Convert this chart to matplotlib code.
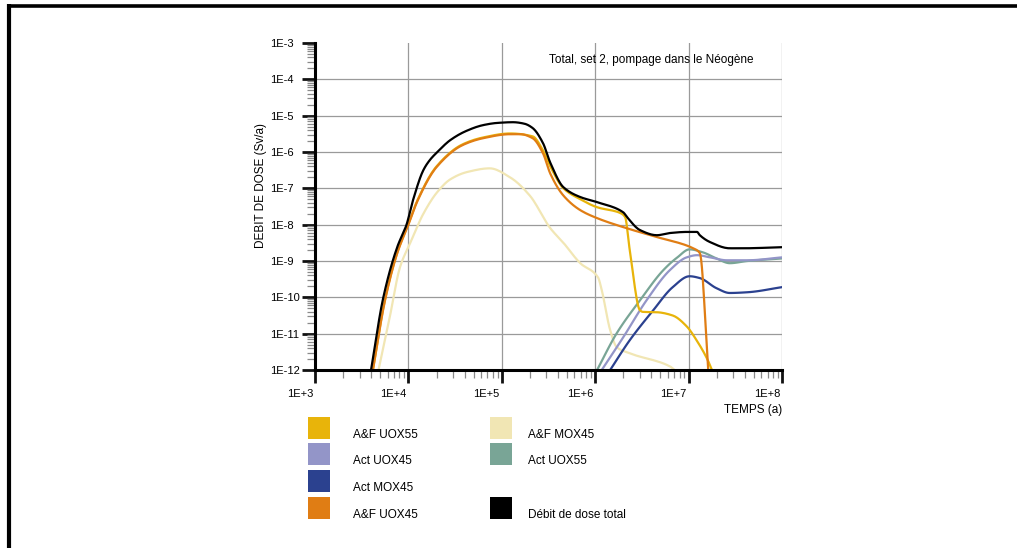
import numpy as np
import matplotlib
matplotlib.use("Agg")
import matplotlib.pyplot as plt
from matplotlib.lines import Line2D
from matplotlib.patches import Rectangle
from matplotlib.ticker import LogLocator, FixedLocator, NullFormatter
from matplotlib.transforms import ScaledTranslation

plt.rcParams['font.family'] = ['Liberation Sans', 'DejaVu Sans']

# ---- data: log10(time [a]) and log10(dose rate [Sv/a]) per contribution ----
total_logt = [3.60, 3.73, 3.88, 3.98, 4.05, 4.16, 4.23, 4.31, 4.45, 4.62, 4.80, 4.95,
              5.12, 5.24, 5.33, 5.44, 5.52, 5.66, 5.84, 6.02, 6.30, 6.34, 6.48, 6.66,
              6.80, 6.98, 7.09, 7.12, 7.23, 7.44, 7.58, 8.00]
total_logd = [-12.0, -10.02, -8.62, -8.0, -7.32, -6.5, -6.22, -6.0, -5.67, -5.42, -5.26, -5.2,
              -5.18, -5.22, -5.34, -5.75, -6.3, -6.97, -7.24, -7.38, -7.66, -7.79, -8.15, -8.29,
              -8.23, -8.2, -8.2, -8.29, -8.48, -8.65, -8.65, -8.62]

af_uox55_logt = [3.62, 3.75, 3.88, 4.00, 4.10, 4.30, 4.58, 4.80, 5.09, 5.33, 5.44, 5.52,
                 5.66, 5.84, 6.02, 6.27, 6.32, 6.37, 6.48, 6.51, 6.66, 6.83, 6.98, 7.09,
                 7.20, 7.25]
af_uox55_logd = [-12.0, -10.05, -8.77, -7.98, -7.31, -6.40, -5.79, -5.60, -5.49, -5.57, -5.95, -6.4,
                 -7.0, -7.3, -7.52, -7.68, -7.79, -8.7, -10.36, -10.4, -10.41, -10.5, -10.8, -11.2,
                 -11.7, -12.0]

af_uox45_logt = [3.62, 3.75, 3.88, 4.00, 4.10, 4.30, 4.58, 4.80, 5.09, 5.20, 5.33, 5.44,
                 5.52, 5.66, 5.84, 6.02, 6.34, 6.66, 7.05, 7.12, 7.21]
af_uox45_logd = [-12.0, -10.08, -8.79, -8.0, -7.33, -6.42, -5.81, -5.62, -5.51, -5.51, -5.62, -6.03,
                 -6.6, -7.2, -7.6, -7.82, -8.1, -8.34, -8.65, -8.78, -12.0]

af_mox45_logt = [3.68, 3.80, 3.91, 4.02, 4.16, 4.31, 4.45, 4.63, 4.87, 5.09, 5.30, 5.52,
                 5.66, 5.84, 6.03, 6.07, 6.16, 6.23, 6.37, 6.80, 6.85]
af_mox45_logd = [-12.0, -10.55, -9.17, -8.5, -7.7, -7.1, -6.75, -6.55, -6.45, -6.7, -7.2, -8.1,
                 -8.5, -9.06, -9.45, -9.8, -10.9, -11.37, -11.54, -11.9, -12.0]

act_uox55_logt = [6.02, 6.23, 6.48, 6.73, 6.88, 7.01, 7.15, 7.30, 7.44, 7.63, 8.00]
act_uox55_logd = [-12.0, -10.99, -10.08, -9.25, -8.9, -8.68, -8.76, -8.93, -9.06, -9.0, -8.93]

act_uox45_logt = [6.07, 6.30, 6.55, 6.80, 6.98, 7.09, 7.23, 7.41, 7.63, 8.00]
act_uox45_logd = [-12.0, -11.1, -10.08, -9.25, -8.9, -8.84, -8.9, -8.98, -8.98, -8.9]

act_mox45_logt = [6.16, 6.37, 6.62, 6.83, 7.01, 7.12, 7.30, 7.44, 7.63, 8.00]
act_mox45_logd = [-12.0, -11.18, -10.36, -9.72, -9.42, -9.47, -9.75, -9.88, -9.86, -9.72]

x_tick_labels = ["1E+3", "1E+4", "1E+5", "1E+6", "1E+7", "1E+8"]
y_tick_labels = ["1E-12", "1E-11", "1E-10", "1E-9", "1E-8", "1E-7",
                 "1E-6", "1E-5", "1E-4", "1E-3"]

legend_labels = [["A&F UOX55", "Act UOX45", "Act MOX45", "A&F UOX45"],
                 ["A&F MOX45", "Act UOX55", None, "Débit de dose total"]]

C_YELLOW = "#e8b40a"
C_ORANGE = "#e07d14"
C_PALE = "#f1e6b4"
C_TEAL = "#79a596"
C_LAV = "#9395c8"
C_NAVY = "#2b418f"
C_BLACK = "#000000"

legend_colors = [[C_YELLOW, C_LAV, C_NAVY, C_ORANGE],
                 [C_PALE, C_TEAL, None, C_BLACK]]


def pchip_curve(xk, yk, n=12):
    """Monotone cubic Hermite curve through the given knots (no overshoot)."""
    xk = np.asarray(xk, float)
    yk = np.asarray(yk, float)
    h = np.diff(xk)
    d = np.diff(yk) / h
    m = np.zeros_like(yk)
    for i in range(1, len(xk) - 1):
        if d[i - 1] * d[i] > 0:
            w1 = 2 * h[i] + h[i - 1]
            w2 = h[i] + 2 * h[i - 1]
            m[i] = (w1 + w2) / (w1 / d[i - 1] + w2 / d[i])
    m[0] = d[0]
    m[-1] = d[-1]
    xs, ys = [], []
    for i in range(len(h)):
        t = np.linspace(0, 1, n, endpoint=False)
        h00 = 2 * t**3 - 3 * t**2 + 1
        h10 = t**3 - 2 * t**2 + t
        h01 = -2 * t**3 + 3 * t**2
        h11 = t**3 - t**2
        xs.append(xk[i] + t * h[i])
        ys.append(h00 * yk[i] + h10 * h[i] * m[i] + h01 * yk[i + 1] + h11 * h[i] * m[i + 1])
    xs.append([xk[-1]])
    ys.append([yk[-1]])
    return np.concatenate(xs), np.concatenate(ys)


# ---- figure ----
W, H = 1017, 548
fig = plt.figure(figsize=(W / 100, H / 100), dpi=100)


def fx(px):
    return px / W


def fy(py):
    return 1 - py / H


ax = fig.add_axes([fx(315), fy(370), fx(782) - fx(315), fy(43) - fy(370)])
ax.set_xscale("log")
ax.set_yscale("log")
ax.set_xlim(1e3, 1e8)
ax.set_ylim(1e-12, 1e-3)

series = [
    (af_mox45_logt, af_mox45_logd, C_PALE),
    (act_uox55_logt, act_uox55_logd, C_TEAL),
    (act_uox45_logt, act_uox45_logd, C_LAV),
    (act_mox45_logt, act_mox45_logd, C_NAVY),
    (af_uox55_logt, af_uox55_logd, C_YELLOW),
    (af_uox45_logt, af_uox45_logd, C_ORANGE),
    (total_logt, total_logd, C_BLACK),
]
for lt, ld, col in series:
    cx, cy = pchip_curve(lt, ld)
    ax.plot(10 ** cx, 10 ** cy, color=col, lw=1.6, solid_joinstyle="round")

# grid at decades
for k in range(4, 9):
    ax.axvline(10.0 ** k, color="#9a9a9a", lw=0.9, zorder=0)
for k in range(-11, -3):
    ax.axhline(10.0 ** k, color="#9a9a9a", lw=0.9, zorder=0)

for s in ["top", "right"]:
    ax.spines[s].set_visible(False)
for s in ["left", "bottom"]:
    ax.spines[s].set_linewidth(2.2)
    ax.spines[s].set_zorder(5)

ax.xaxis.set_major_locator(FixedLocator([10.0 ** k for k in range(3, 9)]))
ax.yaxis.set_major_locator(FixedLocator([10.0 ** k for k in range(-12, -2)]))
ax.set_xticklabels(x_tick_labels)
ax.set_yticklabels(y_tick_labels)
ax.xaxis.set_minor_locator(LogLocator(base=10, subs=np.arange(2, 10), numticks=20))
ax.yaxis.set_minor_locator(LogLocator(base=10, subs=np.arange(2, 10), numticks=20))
ax.xaxis.set_minor_formatter(NullFormatter())
ax.yaxis.set_minor_formatter(NullFormatter())

ax.tick_params(which="major", direction="out", length=9.5, width=2.0, color="#111111",
               labelsize=8)
ax.tick_params(axis="x", which="major", pad=4)
ax.tick_params(axis="y", which="major", pad=23)
ax.tick_params(which="minor", direction="out", length=5.5, width=0.9, color="#8a8a8a")

for lab in ax.get_yticklabels():
    lab.set_horizontalalignment("left")
shift = ScaledTranslation(-2 / 100, 0, fig.dpi_scale_trans)
for lab in ax.get_xticklabels():
    lab.set_horizontalalignment("right")
    lab.set_transform(lab.get_transform() + shift)

fig.text(fx(261), fy(186), "DEBIT DE DOSE (Sv/a)", rotation=90, ha="center",
         va="center", fontsize=8.5)
fig.text(fx(782), fy(410), "TEMPS (a)", ha="right", va="center", fontsize=8.5)
fig.text(fx(549), fy(60), "Total, set 2, pompage dans le Néogène", ha="left",
         va="center", fontsize=8.5)

# ---- legend ----
col_x = [308, 490]
text_x = [353, 528]
row_top = [417, 443, 470, 497]
for c in range(2):
    for r in range(4):
        lab = legend_labels[c][r]
        if lab is None:
            continue
        fig.add_artist(Rectangle((fx(col_x[c]), fy(row_top[r] + 22)), fx(22), 22 / H,
                                 transform=fig.transFigure, facecolor=legend_colors[c][r],
                                 edgecolor="none"))
        fig.text(fx(text_x[c]), fy(row_top[r] + 18), lab, ha="left", va="center",
                 fontsize=8.5)

# ---- page frame (left and top edges) ----
fig.add_artist(Line2D([fx(9), fx(9)], [fy(4), 0], transform=fig.transFigure,
                      color="black", lw=3, solid_capstyle="butt"))
fig.add_artist(Line2D([fx(7), 1], [fy(5.5), fy(5.5)], transform=fig.transFigure,
                      color="black", lw=2.6, solid_capstyle="butt"))

fig.savefig("out.png", dpi=100)
